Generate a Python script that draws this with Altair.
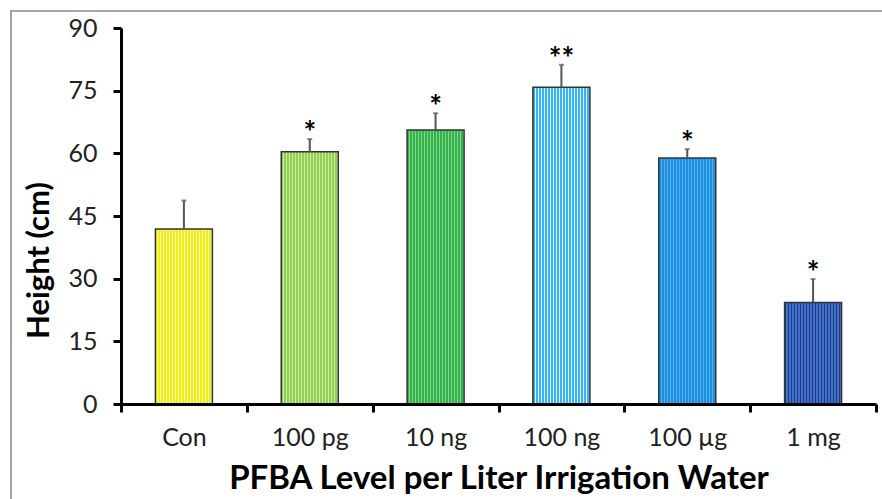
import altair as alt
import pandas as pd

categories = ["Con", "100 pg", "10 ng", "100 ng", "100 µg", "1 mg"]
heights = [41.9, 60.4, 65.6, 75.8, 58.9, 24.3]
err_top = [48.7, 63.4, 69.6, 81.2, 61.0, 29.9]
signif = ["", "*", "*", "**", "*", "*"]
y_ticks = [0, 15, 30, 45, 60, 75, 90]

colors = [
    ("#eeee1e", "#f8f89c"),
    ("#92d050", "#cae8a8"),
    ("#2fb54a", "#86d291"),
    ("#3ab3f0", "#d8effc"),
    ("#1c8fe0", "#55aef0"),
    ("#1d3c8f", "#4170c4"),
]

df = pd.DataFrame({"cat": categories, "h": heights, "e": err_top, "s": signif})

FONT = "Lato"

x_enc = alt.X(
    "cat:N",
    sort=categories,
    scale=alt.Scale(paddingInner=0, paddingOuter=0),
    axis=alt.Axis(
        title="PFBA Level per Liter Irrigation Water",
        labelAngle=0,
        tickBand="extent",
        domainColor="black",
        domainWidth=3,
        tickColor="black",
        tickWidth=3,
        tickSize=8,
        labelFont=FONT,
        labelFontSize=25,
        labelColor="#222222",
        labelPadding=13,
        titleFont=FONT,
        titleFontSize=33,
        titleFontWeight="bold",
        titleColor="black",
        titlePadding=12,
        grid=False,
        zindex=1,
    ),
)

y_scale = alt.Scale(domain=[0, 90], nice=False, zero=True)


def stripe_fill(dark, light, n=19):
    stops = []
    for i in range(n):
        a = i / n
        b = (i + 0.62) / n
        c = (i + 1) / n
        stops += [
            {"offset": a, "color": dark},
            {"offset": b, "color": dark},
            {"offset": b, "color": light},
            {"offset": c, "color": light},
        ]
    return {"gradient": "linear", "x1": 0, "x2": 1, "y1": 0, "y2": 0, "stops": stops}


layers = []

frame = alt.Chart(pd.DataFrame({"a": [0]})).mark_rect(
    fill="white", fillOpacity=0, stroke="#8c8c8c", strokeWidth=1.6, clip=False
).encode(
    x=alt.value(-110), x2=alt.value(900), y=alt.value(-17), y2=alt.value(700)
)
layers.append(frame)

base = alt.Chart(df)

for cat, (dark, light) in zip(categories, colors):
    layers.append(
        base.transform_filter(alt.datum.cat == cat)
        .mark_bar(width=57, fill=stripe_fill(dark, light), stroke="#333333", strokeWidth=1.5)
        .encode(
            x=x_enc,
            y=alt.Y(
                "h:Q",
                scale=y_scale,
                axis=alt.Axis(
                    title="Height (cm)",
                    values=y_ticks,
                    domainColor="black",
                    domainWidth=3,
                    tickColor="black",
                    tickWidth=3,
                    tickSize=8,
                    labelFont=FONT,
                    labelFontSize=25,
                    labelColor="#222222",
                    labelPadding=16,
                    titleFont=FONT,
                    titleFontSize=31,
                    titleFontWeight="bold",
                    titleColor="black",
                    titlePadding=12,
                    titleY=232,
                    grid=False,
                    zindex=1,
                ),
            ),
        )
    )

err = base.mark_rule(color="#555555", strokeWidth=2).encode(
    x=alt.X("cat:N", sort=categories), y="h:Q", y2="e:Q"
)
cap = base.mark_tick(color="#555555", thickness=2, size=5, orient="horizontal").encode(
    x=alt.X("cat:N", sort=categories), y="e:Q"
)
stars = base.mark_text(
    font=FONT, fontSize=30, fontWeight="bold", color="black", baseline="middle", dy=-5
).encode(x=alt.X("cat:N", sort=categories), y="e:Q", text="s:N")

layers += [err, cap, stars]

chart = (
    alt.layer(*layers)
    .properties(
        width=755,
        height=376,
        autosize=alt.AutoSizeParams(type="none"),
        padding={"left": 121, "top": 28, "right": 6, "bottom": 95},
        background="white",
    )
    .configure_view(stroke=None)
)

chart.save("out.html", embed_options={"renderer": "svg", "actions": False})
